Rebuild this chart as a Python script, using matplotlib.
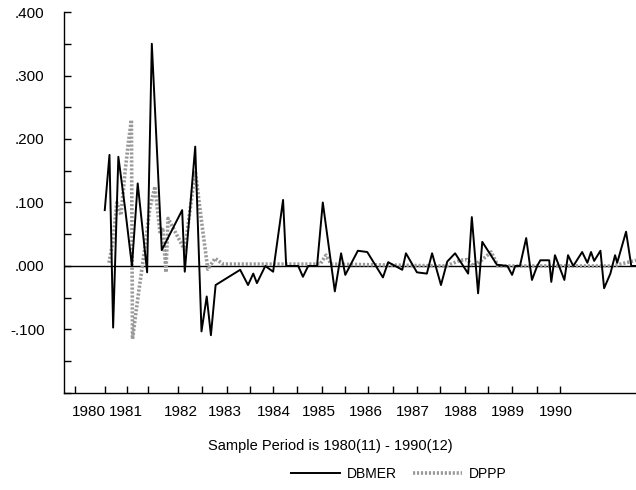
import matplotlib
matplotlib.use("Agg")
import matplotlib.pyplot as plt
from matplotlib.ticker import FixedLocator, FuncFormatter

plt.rcParams["font.family"] = ["Liberation Sans", "DejaVu Sans"]

# DBMER (solid black) - vertices, x in decimal years
dbmer_t = [1980.83, 1980.92, 1980.99, 1981.09, 1981.22, 1981.35, 1981.46, 1981.64,
           1981.73, 1981.92, 1982.31, 1982.36, 1982.56, 1982.68, 1982.78, 1982.86,
           1982.95, 1983.42, 1983.57, 1983.67, 1983.74, 1983.90, 1984.05, 1984.24,
           1984.30, 1984.53, 1984.62, 1984.72, 1984.89, 1985.00, 1985.23, 1985.35,
           1985.43, 1985.67, 1985.85, 1986.15, 1986.25, 1986.52, 1986.59, 1986.80,
           1986.99, 1987.09, 1987.26, 1987.38, 1987.53, 1987.78, 1987.85, 1987.97,
           1988.05, 1988.33, 1988.53, 1988.62, 1988.68, 1988.77, 1988.89, 1989.00,
           1989.10, 1989.16, 1989.33, 1989.37, 1989.44, 1989.62, 1989.69, 1989.79,
           1989.96, 1990.06, 1990.13, 1990.19, 1990.31, 1990.38, 1990.50, 1990.59,
           1990.63, 1990.80, 1990.90, 1990.99]
dbmer_v = [0.088, 0.175, -0.097, 0.172, 0.090, 0.000, 0.130, -0.010,
           0.350, 0.025, 0.088, -0.009, 0.188, -0.103, -0.048, -0.109,
           -0.030, -0.006, -0.030, -0.012, -0.027, 0.000, -0.009, 0.104,
           0.000, 0.000, -0.017, 0.000, 0.000, 0.100, -0.040, 0.020,
           -0.014, 0.024, 0.022, -0.018, 0.006, -0.006, 0.020, -0.010,
           -0.012, 0.020, -0.030, 0.007, 0.020, -0.012, 0.077, -0.043,
           0.038, 0.002, 0.000, -0.014, 0.000, 0.000, 0.044, -0.022,
           0.000, 0.009, 0.009, -0.025, 0.017, -0.022, 0.017, 0.000,
           0.022, 0.005, 0.022, 0.008, 0.024, -0.035, -0.012, 0.017,
           0.005, 0.054, 0.000, 0.000]

# DPPP (grey stippled)
dppp_t = [1980.91, 1980.99, 1981.06, 1981.14, 1981.22, 1981.29, 1981.34, 1981.36,
          1981.48, 1981.60, 1981.69, 1981.79, 1981.89, 1981.94, 1982.00, 1982.04,
          1982.36, 1982.56, 1982.65, 1982.80, 1982.94, 1983.09, 1984.95, 1985.06,
          1985.16, 1987.36, 1987.63, 1987.76, 1987.88, 1988.05, 1988.22, 1988.35,
          1990.55, 1990.99]
dppp_v = [0.005, 0.040, 0.100, 0.080, 0.150, 0.200, 0.230, -0.115,
          -0.040, 0.030, 0.090, 0.125, 0.050, 0.060, -0.010, 0.075,
          0.025, 0.150, 0.090, -0.005, 0.012, 0.003, 0.003, 0.017,
          0.003, 0.000, 0.009, 0.010, 0.000, 0.010, 0.022, 0.000,
          0.000, 0.009]

year_labels = ["1980", "1981", "1982", "1983", "1984", "1985",
               "1986", "1987", "1988", "1989", "1990"]
year_label_pos = [1980.53, 1981.24, 1982.29, 1983.13, 1984.07, 1984.93,
                  1985.83, 1986.73, 1987.65, 1988.54, 1989.46]
x_tick_pos = [1980.26, 1980.83, 1981.25, 1981.66, 1982.23, 1982.69, 1983.17,
              1983.61, 1984.05, 1984.51, 1984.99, 1985.43, 1985.87, 1986.34,
              1986.80, 1987.24, 1987.72, 1988.16, 1988.62, 1989.10, 1989.54]
y_tick_pos = [-0.20, -0.15, -0.10, -0.05, 0.00, 0.05, 0.10, 0.15, 0.20, 0.25, 0.30, 0.35, 0.40]
y_label_pos = [-0.1, 0.0, 0.1, 0.2, 0.3, 0.4]


def fmt_y(v, pos):
    s = "%.3f" % v
    return s.replace("0.", ".", 1)


fig = plt.figure(figsize=(6.36, 4.90), dpi=100)
ax = fig.add_axes([0.1006, 0.198, 0.8994, 0.7775])

ax.plot(dppp_t, dppp_v, color="0.6", lw=2.6, ls=(0, (0.6, 0.5)), label="DPPP", zorder=2)
ax.plot(dbmer_t, dbmer_v, color="black", lw=1.4, label="DBMER", zorder=3)
ax.axhline(0, color="black", lw=1.0, zorder=1)

ax.set_xlim(1980.05, 1990.99)
ax.set_ylim(-0.2, 0.4)

ax.spines["top"].set_visible(False)
ax.spines["right"].set_visible(False)
ax.spines["left"].set_linewidth(1.0)
ax.spines["bottom"].set_linewidth(1.0)

# x: tick marks on half-year grid, year labels placed separately
ax.xaxis.set_major_locator(FixedLocator(x_tick_pos))
ax.xaxis.set_major_formatter(FuncFormatter(lambda v, p: ""))
ax.xaxis.set_minor_locator(FixedLocator(year_label_pos))
ax.set_xticklabels(year_labels, minor=True)
ax.tick_params(axis="x", which="major", direction="in", length=5, width=1)
ax.tick_params(axis="x", which="minor", length=0, pad=9, labelsize=11)

# y: ticks every .05, labels every .1
ax.yaxis.set_major_locator(FixedLocator(y_label_pos))
ax.yaxis.set_major_formatter(FuncFormatter(fmt_y))
ax.yaxis.set_minor_locator(FixedLocator(y_tick_pos))
ax.tick_params(axis="y", which="both", direction="in", length=5, width=1)
ax.tick_params(axis="y", which="major", pad=14, labelsize=11)

fig.text(0.519, 0.09, "Sample Period is 1980(11) - 1990(12)", ha="center", va="center", fontsize=10.5)

handles, labels = ax.get_legend_handles_labels()
fig.legend(handles[::-1], labels[::-1], loc="center", bbox_to_anchor=(0.627, 0.033),
           ncol=2, frameon=False, fontsize=10, handlelength=3.5, columnspacing=1.2,
           handletextpad=0.5)

fig.savefig("out.png", dpi=100)
